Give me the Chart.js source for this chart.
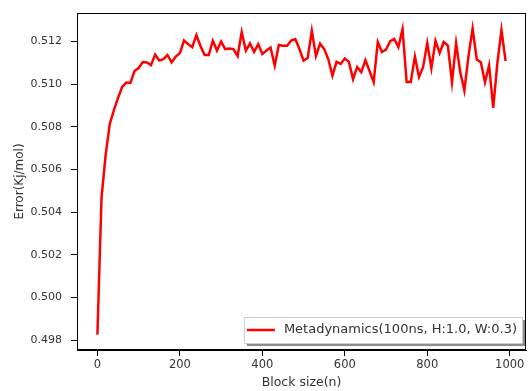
<!DOCTYPE html>
<html>
<head>
<meta charset="utf-8">
<script src="https://cdn.jsdelivr.net/npm/chart.js@4/dist/chart.umd.min.js"></script>
<style>
html,body{margin:0;padding:0;background:#fff;}
#wrap{width:529px;height:391px;position:relative;}
</style>
</head>
<body>
<div id="wrap"><canvas id="c" width="529" height="391"></canvas></div>
<script>
const blockSizes = [0,10,20,30,40,50,60,70,80,90,100,110,120,130,140,150,160,170,180,190,200,210,220,230,240,250,260,270,280,290,300,310,320,330,340,350,360,370,380,390,400,410,420,430,440,450,460,470,480,490,500,510,520,530,540,550,560,570,580,590,600,610,620,630,640,650,660,670,680,690,700,710,720,730,740,750,760,770,780,790,800,810,820,830,840,850,860,870,880,890,900,910,920,930,940,950,960,970,980,990];
const errorValues = [0.49826,0.50470,0.50669,0.50814,0.50879,0.50936,0.50987,0.51008,0.51006,0.51062,
0.51076,0.51104,0.51102,0.51090,0.51139,0.51111,0.51118,0.51137,0.51102,0.51130,
0.51146,0.51205,0.51188,0.51174,0.51230,0.51179,0.51137,0.51137,0.51204,0.51158,
0.51200,0.51165,0.51168,0.51165,0.51132,0.51244,0.51158,0.51191,0.51151,0.51188,
0.51142,0.51158,0.51172,0.51088,0.51184,0.51180,0.51180,0.51205,0.51212,0.51165,
0.51111,0.51123,0.51251,0.51132,0.51190,0.51165,0.51118,0.51040,0.51105,0.51095,
0.51121,0.51105,0.51024,0.51081,0.51057,0.51113,0.51062,0.51010,0.51198,0.51151,
0.51162,0.51202,0.51212,0.51174,0.51258,0.51010,0.51010,0.51130,0.51034,0.51081,
0.51193,0.51075,0.51204,0.51146,0.51198,0.51181,0.51009,0.51193,0.51057,0.50970,
0.51132,0.51262,0.51116,0.51103,0.51009,0.51088,0.50889,0.51099,0.51254,0.51109];
const xTicks = [0,200,400,600,800,1000];
const yTicks = [0.498,0.500,0.502,0.504,0.506,0.508,0.510,0.512];
const seriesLabel = 'Metadynamics(100ns, H:1.0, W:0.3)';
const xTitle = 'Block size(n)';
const yTitle = 'Error(Kj/mol)';

const FONT = "'DejaVu Sans', sans-serif";
const TXT = '#333';

const framePlugin = {
  id: 'frame',
  afterDatasetsDraw(chart) {
    const {ctx, chartArea: a} = chart;
    ctx.save();
    ctx.strokeStyle = '#000';
    ctx.lineWidth = 1;
    ctx.strokeRect(a.left + 0.5, a.top + 0.5, a.right - a.left - 1, a.bottom - a.top - 1);
    ctx.restore();
  }
};

const legendPlugin = {
  id: 'mplLegend',
  afterDraw(chart) {
    const {ctx, chartArea: a} = chart;
    const ds = chart.data.datasets[0];
    ctx.save();
    ctx.font = "13px " + FONT;
    const tw = ctx.measureText(ds.label).width;
    const w = 40 + tw + 5;
    const h = 26;
    const x = a.right - 4 - w;
    const y = a.bottom - 7 - h;
    ctx.fillStyle = 'rgba(0,0,0,0.45)';
    ctx.fillRect(x + 3, y + 3, w, h);
    ctx.fillStyle = '#fff';
    ctx.strokeStyle = '#ccc';
    ctx.lineWidth = 1;
    ctx.beginPath();
    ctx.rect(x + 0.5, y + 0.5, w, h);
    ctx.fill();
    ctx.stroke();
    ctx.strokeStyle = ds.borderColor;
    ctx.lineWidth = 2.5;
    ctx.beginPath();
    ctx.moveTo(x + 3, y + h / 2);
    ctx.lineTo(x + 31, y + h / 2);
    ctx.stroke();
    ctx.fillStyle = TXT;
    ctx.textBaseline = 'middle';
    ctx.fillText(ds.label, x + 40, y + h / 2);
    ctx.restore();
  }
};

new Chart(document.getElementById('c'), {
  type: 'line',
  data: {
    datasets: [{
      label: seriesLabel,
      data: blockSizes.map((b, i) => ({x: b, y: errorValues[i]})),
      borderColor: '#ff0000',
      borderWidth: 2.5,
      pointRadius: 0,
      tension: 0,
      fill: false
    }]
  },
  options: {
    responsive: false,
    animation: false,
    devicePixelRatio: 1,
    layout: {padding: {left: 0, top: 13, right: 3, bottom: 0}},
    plugins: {legend: {display: false}, tooltip: {enabled: false}},
    scales: {
      x: {
        type: 'linear',
        min: -49.5,
        max: 1039.5,
        afterBuildTicks: s => { s.ticks = xTicks.map(v => ({value: v})); },
        afterFit: s => { s.height = 41; s.paddingLeft = 0; s.paddingRight = 0; },
        ticks: {color: TXT, font: {family: FONT, size: 11.5}, padding: 2, maxRotation: 0,
          callback: v => String(v)},
        grid: {display: true, drawOnChartArea: false, drawTicks: true, tickLength: 6, color: '#000'},
        border: {display: true, color: '#000'},
        title: {display: true, text: xTitle, color: TXT, font: {family: FONT, size: 12.5}, padding: {top: 0, bottom: 1}}
      },
      y: {
        type: 'linear',
        min: 0.49754,
        max: 0.51334,
        afterBuildTicks: s => { s.ticks = yTicks.map(v => ({value: v})); },
        afterFit: s => { s.width = 77; s.paddingTop = 0; s.paddingBottom = 0; },
        ticks: {color: TXT, font: {family: FONT, size: 11}, padding: 9,
          callback: v => Number(v).toFixed(3)},
        grid: {display: true, drawOnChartArea: false, drawTicks: true, tickLength: 6, color: '#000'},
        border: {display: true, color: '#000'},
        title: {display: true, text: yTitle, color: TXT, font: {family: FONT, size: 12}, padding: {top: 13, bottom: 0}}
      }
    }
  },
  plugins: [framePlugin, legendPlugin]
});
</script>
</body>
</html>
